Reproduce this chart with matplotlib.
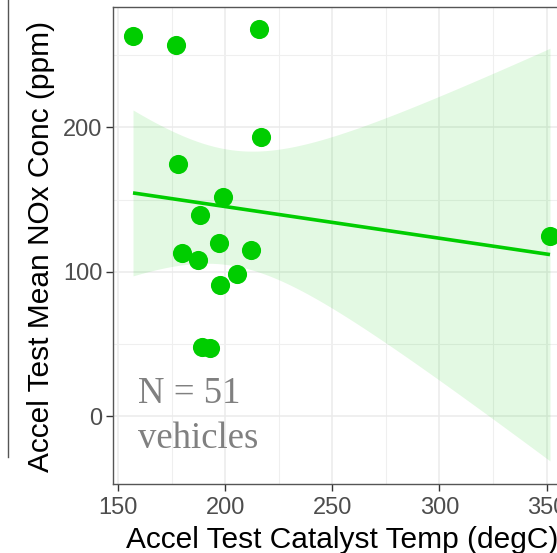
import numpy as np
import matplotlib
matplotlib.use("Agg")
import matplotlib.pyplot as plt
from matplotlib.lines import Line2D
from matplotlib.ticker import MultipleLocator

# Per-vehicle acceleration-test measurements
catalyst_temp = [157.0, 177.1, 215.8, 216.7, 178.0, 199.1, 188.3, 180.0,
                 187.2, 197.1, 212.1, 205.4, 197.6, 189.0, 192.9, 351.6]
mean_nox = [263.3, 257.1, 268.2, 193.3, 174.6, 151.6, 139.3, 113.2,
            107.9, 120.1, 115.0, 98.4, 90.6, 47.6, 46.9, 124.7]

# Linear fit summary (least squares) and its 95% confidence band
fit_x_mean = 202.0
fit_at_mean = 144.7
fit_slope = -0.2195
ci_half_at_mean = 40.0
ci_growth = 0.842

x_ticks = [150, 200, 250, 300, 350]
y_ticks = [0, 100, 200]
x_title = "Accel Test Catalyst Temp (degC)"
y_title = "Accel Test Mean NOx Conc (ppm)"
note_lines = ["N = 51", "vehicles"]

W, H = 557, 553
fig = plt.figure(figsize=(W / 100, H / 100), dpi=100)

left_px, right_px, top_px, bottom_px = 113.3, 570.8, 7.0, 484.0
ax = fig.add_axes([left_px / W, 1 - bottom_px / H,
                   (right_px - left_px) / W, (bottom_px - top_px) / H])
ax.set_xlim(147.8, 361.3)
ax.set_ylim(-47.1, 283.4)

green = "#00CD00"

xs = np.linspace(min(catalyst_temp), max(catalyst_temp), 300)
fit_line = fit_at_mean + fit_slope * (xs - fit_x_mean)
half = np.sqrt(ci_half_at_mean ** 2 + ci_growth * (xs - fit_x_mean) ** 2)
ax.fill_between(xs, fit_line - half, fit_line + half, color=green,
                alpha=0.11, linewidth=0, zorder=2)
ax.plot(xs, fit_line, color=green, linewidth=2.6, zorder=3,
        solid_capstyle="butt")
ax.scatter(catalyst_temp, mean_nox, s=190, color=green, linewidths=0,
           zorder=4)

# grid in the style of theme_bw
ax.xaxis.set_major_locator(plt.FixedLocator(x_ticks))
ax.yaxis.set_major_locator(plt.FixedLocator(y_ticks))
ax.xaxis.set_minor_locator(MultipleLocator(25))
ax.yaxis.set_minor_locator(MultipleLocator(50))
ax.grid(True, which="major", color="#EBEBEB", linewidth=1.1, zorder=0)
ax.grid(True, which="minor", color="#EFEFEF", linewidth=0.8, zorder=0)
ax.set_axisbelow(True)

for sp in ax.spines.values():
    sp.set_color("#555555")
    sp.set_linewidth(1.0)

ax.tick_params(which="major", length=5, width=1.0, color="#333333",
               labelsize=17, labelcolor="#4D4D4D")
ax.tick_params(axis="x", which="major", pad=4)
ax.tick_params(axis="y", which="major", pad=3)
ax.tick_params(which="minor", length=0)
for lab in ax.get_xticklabels() + ax.get_yticklabels():
    lab.set_family("Liberation Sans")

# axis titles
fig.text(342 / W, 1 - 548 / H, x_title, fontsize=21.5,
         family="Liberation Sans", ha="center", va="baseline")
fig.text(41 / W, 1 - 246 / H, y_title, fontsize=21.5,
         family="Liberation Sans", ha="center", va="center", rotation=90)

# sample-size note
ax.text(159.5, 9.0, note_lines[0], fontsize=26.5, family="Liberation Serif",
        color="#808080", va="baseline", ha="left", zorder=5)
ax.text(159.5, -22.2, note_lines[1], fontsize=26.5, family="Liberation Serif",
        color="#808080", va="baseline", ha="left", zorder=5)

# outer frame edge on the left
fig.add_artist(Line2D([7.5 / W, 7.5 / W], [1 - 457 / H, 1.0],
                      color="#555555", linewidth=1.0))

fig.savefig("out.png", dpi=100)
